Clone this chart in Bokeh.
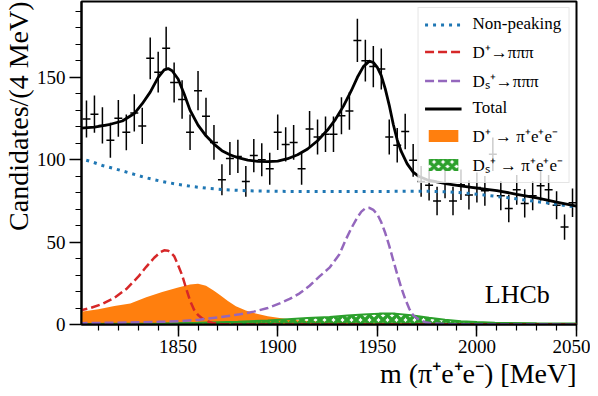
import numpy as np
from bokeh.plotting import figure
from bokeh.embed import file_html
from bokeh.resources import INLINE
from bokeh.models import (Range1d, SingleIntervalTicker, Title, Legend, LegendItem,
                          Label, ColumnDataSource)

SERIF = "Liberation Serif"

# ---------------- data ----------------
bin_centers = [1804, 1808, 1812, 1816, 1820, 1824, 1828, 1832, 1836, 1840,
               1844, 1848, 1852, 1856, 1860, 1864, 1868, 1872, 1876, 1880,
               1884, 1888, 1892, 1896, 1900, 1904, 1908, 1912, 1916, 1920,
               1924, 1928, 1932, 1936, 1940, 1944, 1948, 1952, 1956, 1960,
               1964, 1968, 1972, 1976, 1980, 1984, 1988, 1992, 1996, 2000,
               2004, 2008, 2012, 2016, 2020, 2024, 2028, 2032, 2036, 2040,
               2044, 2048]
counts = [124.7, 127.6, 120.8, 111.8, 125.1, 116.6, 128.4, 120.5, 161.5, 153.1,
          167.7, 146.9, 136.6, 116.7, 141.9, 126.4, 110.5, 87.8, 100.7, 102.0,
          86.8, 102.5, 100.0, 94.5, 116.7, 109.3, 110.5, 94.5, 118.6, 113.8,
          115.4, 115.4, 126.7, 129.5, 172.4, 160.1, 156.5, 155.0, 113.8, 108.8,
          117.1, 99.6, 86.8, 84.5, 75.0, 85.8, 75.0, 84.8, 78.6, 83.1,
          81.1, 103.3, 78.2, 70.4, 81.7, 73.5, 78.2, 84.2, 81.7, 72.4,
          59.1, 73.9]
bin_half_width = 2.0

nonpeak_x = [1800, 1806, 1812, 1818, 1826, 1834, 1842, 1850, 1858, 1866, 1874,
             1882, 1890, 1900, 1920, 1940, 1960, 1975, 1985, 1995, 2005, 2015,
             2025, 2035, 2050]
nonpeak_y = [101.0, 99.0, 96.5, 94.6, 91.8, 89.0, 86.8, 85.0, 83.6, 82.5, 81.8,
             81.3, 81.0, 80.8, 80.7, 80.7, 80.8, 80.9, 80.5, 79.7, 78.4, 77.0,
             75.4, 73.8, 71.2]

dp_pipipi_x = [1800, 1806, 1812, 1818, 1824, 1830, 1834, 1838, 1841, 1843, 1845,
               1846, 1848, 1850, 1852, 1854, 1856, 1858, 1860, 1862, 1865, 1868,
               1872, 1880, 2050]
dp_pipipi_y = [8.3, 10.0, 12.5, 16.2, 21.5, 29.0, 35.0, 40.5, 43.8, 45.0, 44.8,
               44.0, 41.5, 36.0, 30.0, 22.0, 14.5, 9.0, 5.8, 3.8, 1.8, 0.7,
               0.2, 0.0, 0.0]

ds_pipipi_x = [1800, 1820, 1840, 1851, 1860, 1871, 1880, 1888, 1895, 1901, 1906,
               1911, 1916, 1921, 1926, 1931, 1934, 1937, 1940, 1942, 1944, 1946,
               1948, 1950, 1952, 1954, 1956, 1958, 1960, 1962, 1964, 1966, 1968,
               1971, 1974, 1978, 1985, 2050]
ds_pipipi_y = [0.8, 1.1, 1.6, 2.0, 2.8, 4.5, 6.0, 7.8, 10.0, 12.8, 15.5,
               18.9, 23.5, 29.2, 34.5, 42.6, 51.0, 58.5, 65.0, 68.5, 70.5, 70.8,
               69.5, 67.0, 62.0, 55.5, 47.7, 39.0, 30.5, 22.5, 15.5, 9.7, 5.5,
               2.9, 1.4, 0.6, 0.2, 0.05]

total_x = [1800, 1808, 1816, 1822, 1828, 1832, 1836, 1840, 1843, 1845, 1847,
           1850, 1853, 1856, 1860, 1864, 1868, 1872, 1876, 1880, 1885, 1890,
           1895, 1900, 1905, 1910, 1915, 1920, 1925, 1929, 1933, 1937, 1940,
           1943, 1946, 1948, 1950, 1952, 1954, 1956, 1958, 1960, 1962, 1965,
           1968, 1971, 1975, 1980, 1985, 1990, 2000, 2010, 2020, 2030, 2040,
           2050]
total_y = [119.0, 119.8, 121.5, 123.5, 128.0, 134.0, 141.0, 150.0, 154.5, 155.3, 154.0,
           149.0, 140.0, 130.0, 121.0, 114.5, 109.5, 105.5, 103.0, 101.2, 99.8, 99.0,
           98.8, 99.2, 100.6, 103.0, 106.5, 111.5, 118.0, 124.5, 132.5, 142.0, 150.0,
           156.5, 159.8, 159.0, 156.0, 151.0, 143.0, 133.0, 121.5, 112.0, 105.0, 97.5,
           92.5, 89.8, 87.8, 86.5, 85.3, 84.4, 82.8, 81.3, 79.0, 76.8, 74.2,
           71.8]

dp_piee_x = [1800, 1810, 1818, 1826, 1834, 1842, 1850, 1856, 1860, 1864, 1868,
             1871, 1875, 1879, 1884, 1889, 1895, 1901, 1911, 1920, 1935, 1960,
             1980, 2000, 2050]
dp_piee_y = [7.5, 9.3, 11.2, 12.8, 16.5, 19.7, 22.4, 24.3, 24.7, 23.5, 20.5,
             17.9, 14.2, 11.1, 8.5, 6.6, 5.0, 3.9, 2.5, 1.8, 1.3, 1.1,
             0.8, 0.4, 0.2]

ds_piee_x = [1800, 1840, 1860, 1880, 1895, 1907, 1915, 1926, 1935, 1943, 1951,
             1959, 1967, 1976, 1984, 1992, 2000, 2009, 2030, 2050]
ds_piee_y = [0.3, 0.6, 1.0, 1.7, 2.5, 3.4, 4.0, 4.5, 5.4, 6.0, 6.6,
             6.6, 5.6, 4.1, 2.9, 2.0, 1.5, 1.0, 0.7, 0.6]

legend_labels = ["Non-peaking", "D⁺→πππ", "Dₛ⁺→πππ", "Total",
                 "D⁺ → π⁺e⁺e⁻", "Dₛ⁺ → π⁺e⁺e⁻"]

# ---------------- figure ----------------
p = figure(width=590, height=388, x_range=Range1d(1801.5, 2050), y_range=Range1d(0, 196),
           output_backend="svg", toolbar_location=None,
           min_border_top=1, min_border_right=14, min_border_left=73, min_border_bottom=5)
p.xgrid.visible = False
p.ygrid.visible = False
p.outline_line_color = "black"
p.outline_line_width = 2
p.outline_line_alpha = 1.0

p.xaxis.ticker = SingleIntervalTicker(interval=50, num_minor_ticks=5)
p.yaxis.ticker = SingleIntervalTicker(interval=50, num_minor_ticks=5)
for ax in (p.xaxis, p.yaxis):
    ax.axis_line_width = 2
    ax.axis_line_color = "black"
    ax.major_tick_out = 12
    ax.major_tick_in = 0
    ax.minor_tick_out = 6
    ax.minor_tick_in = 0
    ax.major_tick_line_width = 1.5
    ax.minor_tick_line_width = 1.2
    ax.major_tick_line_color = "black"
    ax.minor_tick_line_color = "black"
    ax.major_label_text_font = SERIF
    ax.major_label_text_font_size = "19px"
    ax.major_label_text_color = "black"
    ax.major_label_standoff = 4
p.xaxis.major_label_standoff = 3

p.add_layout(Title(text="m (π⁺e⁺e⁻) [MeV]", align="right", text_font=SERIF,
                   text_font_size="28px", text_font_style="normal", text_color="black",
                   standoff=0), "below")
p.add_layout(Title(text="Candidates/(4 MeV)", align="right", text_font=SERIF,
                   text_font_size="28px", text_font_style="normal", text_color="black",
                   standoff=0), "left")

# filled components
r_orange = p.varea(x=dp_piee_x, y1=0, y2=dp_piee_y, fill_color="#ff7f0e", fill_alpha=1.0)
r_green = p.varea(x=ds_piee_x, y1=0, y2=ds_piee_y, fill_alpha=0.0,
                  hatch_pattern="diagonal_cross", hatch_color="#2ca02c",
                  hatch_weight=3.5, hatch_scale=9, hatch_alpha=1.0)
p.line(ds_piee_x, ds_piee_y, line_color="#2ca02c", line_width=2)

# data points
x_arr = np.array(bin_centers, dtype=float)
c_arr = np.array(counts, dtype=float)
err = np.sqrt(c_arr)
src = ColumnDataSource(dict(x=x_arr, y=c_arr, lo=c_arr - err, hi=c_arr + err,
                            xl=x_arr - bin_half_width, xr=x_arr + bin_half_width))
p.segment(x0="x", y0="lo", x1="x", y1="hi", source=src, line_color="black", line_width=1.5)
p.segment(x0="xl", y0="y", x1="xr", y1="y", source=src, line_color="black", line_width=1.5)

# curves
r_red = p.line(dp_pipipi_x, dp_pipipi_y, line_color="#d62728", line_width=2.5, line_dash="9 4")
r_purple = p.line(ds_pipipi_x, ds_pipipi_y, line_color="#9467bd", line_width=2.5, line_dash="9 4")
r_blue = p.line(nonpeak_x, nonpeak_y, line_color="#1f77b4", line_width=3, line_dash="3 5")
r_total = p.line(total_x, total_y, line_color="black", line_width=2.8)

legend = Legend(items=[
    LegendItem(label=legend_labels[0], renderers=[r_blue]),
    LegendItem(label=legend_labels[1], renderers=[r_red]),
    LegendItem(label=legend_labels[2], renderers=[r_purple]),
    LegendItem(label=legend_labels[3], renderers=[r_total]),
    LegendItem(label=legend_labels[4], renderers=[r_orange]),
    LegendItem(label=legend_labels[5], renderers=[r_green]),
], location="top_right")
legend.label_text_font = SERIF
legend.label_text_font_size = "17px"
legend.label_text_color = "black"
legend.glyph_width = 37
legend.glyph_height = 15
legend.label_height = 20
legend.label_standoff = 11
legend.padding = 6
legend.spacing = 6
legend.margin = 6
legend.border_line_color = "#cccccc"
legend.border_line_width = 1
legend.background_fill_alpha = 0.8
p.add_layout(legend)

p.add_layout(Label(x=2004, y=18, text="LHCb", text_font=SERIF, text_font_size="26px",
                   text_baseline="alphabetic", text_color="black"))

open("out.html", "w").write(file_html(p, INLINE))
